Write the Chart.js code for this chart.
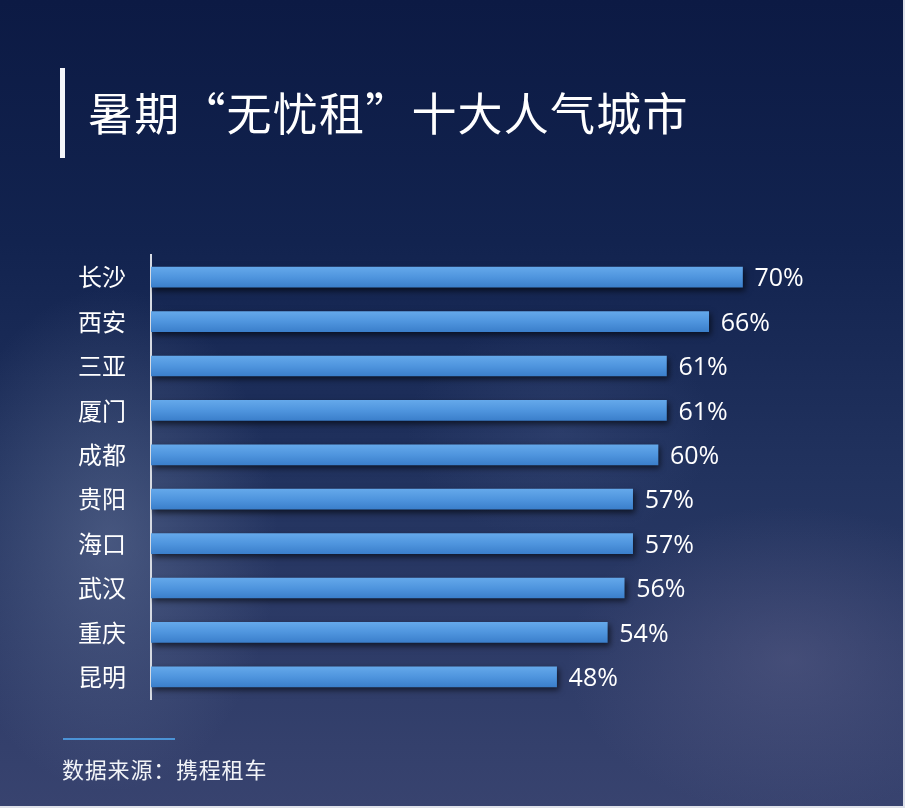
<!DOCTYPE html>
<html>
<head>
<meta charset="utf-8">
<script src="https://cdn.jsdelivr.net/npm/chart.js@4.4.1/dist/chart.umd.min.js"></script>
<style>
html,body{margin:0;padding:0;}
body{width:905px;height:808px;overflow:hidden;}
#wrap{position:relative;width:905px;height:808px;box-sizing:border-box;
  border-right:2px solid #dfe2ea;border-bottom:2px solid #dfe2ea;
  background:
    radial-gradient(ellipse 240px 360px at 110px 540px, rgba(120,135,170,0.40), rgba(120,135,170,0) 70%),
    radial-gradient(ellipse 320px 220px at 790px 660px, rgba(110,110,150,0.35), rgba(110,110,150,0) 70%),
    radial-gradient(ellipse 220px 160px at 560px 430px, rgba(90,110,160,0.22), rgba(90,110,160,0) 70%),
    linear-gradient(180deg, #0c1a44 0%, #12234f 30%, #22335f 60%, #38436f 100%);
}
#c{position:absolute;left:0;top:0;}
#title{position:absolute;left:88px;top:83px;font-family:"Noto Sans CJK SC";font-size:45px;color:#ffffff;white-space:nowrap;line-height:58px;letter-spacing:1.2px;}
#tbar{position:absolute;left:60px;top:68px;width:5px;height:90px;background:#f4f6fa;}
#fline{position:absolute;left:63px;top:738px;width:112px;height:2px;background:#4b93d6;}
#src{position:absolute;left:62px;top:752px;font-family:"Noto Sans CJK SC";font-size:22px;color:#f2f4f8;white-space:nowrap;line-height:32px;letter-spacing:0.8px;}
</style>
</head>
<body>
<div id="wrap">
<canvas id="c" width="905" height="808"></canvas>
<div id="tbar"></div>
<div id="title">暑期“无忧租”十大人气城市</div>
<div id="fline"></div>
<div id="src">数据来源：携程租车</div>
</div>
<script>
const cities = ["长沙","西安","三亚","厦门","成都","贵阳","海口","武汉","重庆","昆明"];
const shares = [70,66,61,61,60,57,57,56,54,48];
const valueSuffix = "%";

const labelPlugin = {
  id: 'valueLabels',
  beforeDatasetsDraw(chart){
    const ctx = chart.ctx;
    ctx.save();
    ctx.shadowColor = 'rgba(0,0,0,0.6)';
    ctx.shadowBlur = 6;
    ctx.shadowOffsetX = 2;
    ctx.shadowOffsetY = 3;
  },
  afterDatasetsDraw(chart){
    const ctx = chart.ctx;
    ctx.restore();
    const meta = chart.getDatasetMeta(0);
    ctx.save();
    ctx.fillStyle = '#ffffff';
    ctx.font = '25px "Open Sans"';
    ctx.textAlign = 'left';
    ctx.textBaseline = 'middle';
    meta.data.forEach((bar, i) => {
      ctx.fillText(shares[i] + valueSuffix, bar.x + 12, bar.y + 2);
    });
    ctx.restore();
  }
};

new Chart(document.getElementById('c'), {
  type: 'bar',
  data: {
    labels: cities,
    datasets: [{
      data: shares,
      backgroundColor: (context) => {
        const chart = context.chart;
        const {ctx, chartArea, scales} = chart;
        if (!chartArea) return '#4a90d8';
        const yc = scales.y.getPixelForValue(context.dataIndex);
        const g = ctx.createLinearGradient(0, yc - 10, 0, yc + 10);
        g.addColorStop(0, '#64a8ea');
        g.addColorStop(0.5, '#4f95de');
        g.addColorStop(1, '#3b7fcb');
        return g;
      },
      borderWidth: 0,
      barThickness: 20
    }]
  },
  options: {
    indexAxis: 'y',
    responsive: false,
    animation: false,
    devicePixelRatio: 1,
    layout: { padding: { left: 0, right: 78, top: 255, bottom: 109 } },
    plugins: { legend: { display: false }, tooltip: { enabled: false } },
    scales: {
      x: { display: false, min: 0, max: 80 },
      y: {
        afterFit(scale){ scale.width = 151; },
        grid: { display: false, drawTicks: false },
        border: { display: true, color: '#d7dbe3', width: 2 },
        ticks: { color: '#ffffff', padding: 25, font: { family: '"Noto Sans CJK SC"', size: 24 } }
      }
    }
  },
  plugins: [labelPlugin]
});
</script>
</body>
</html>
